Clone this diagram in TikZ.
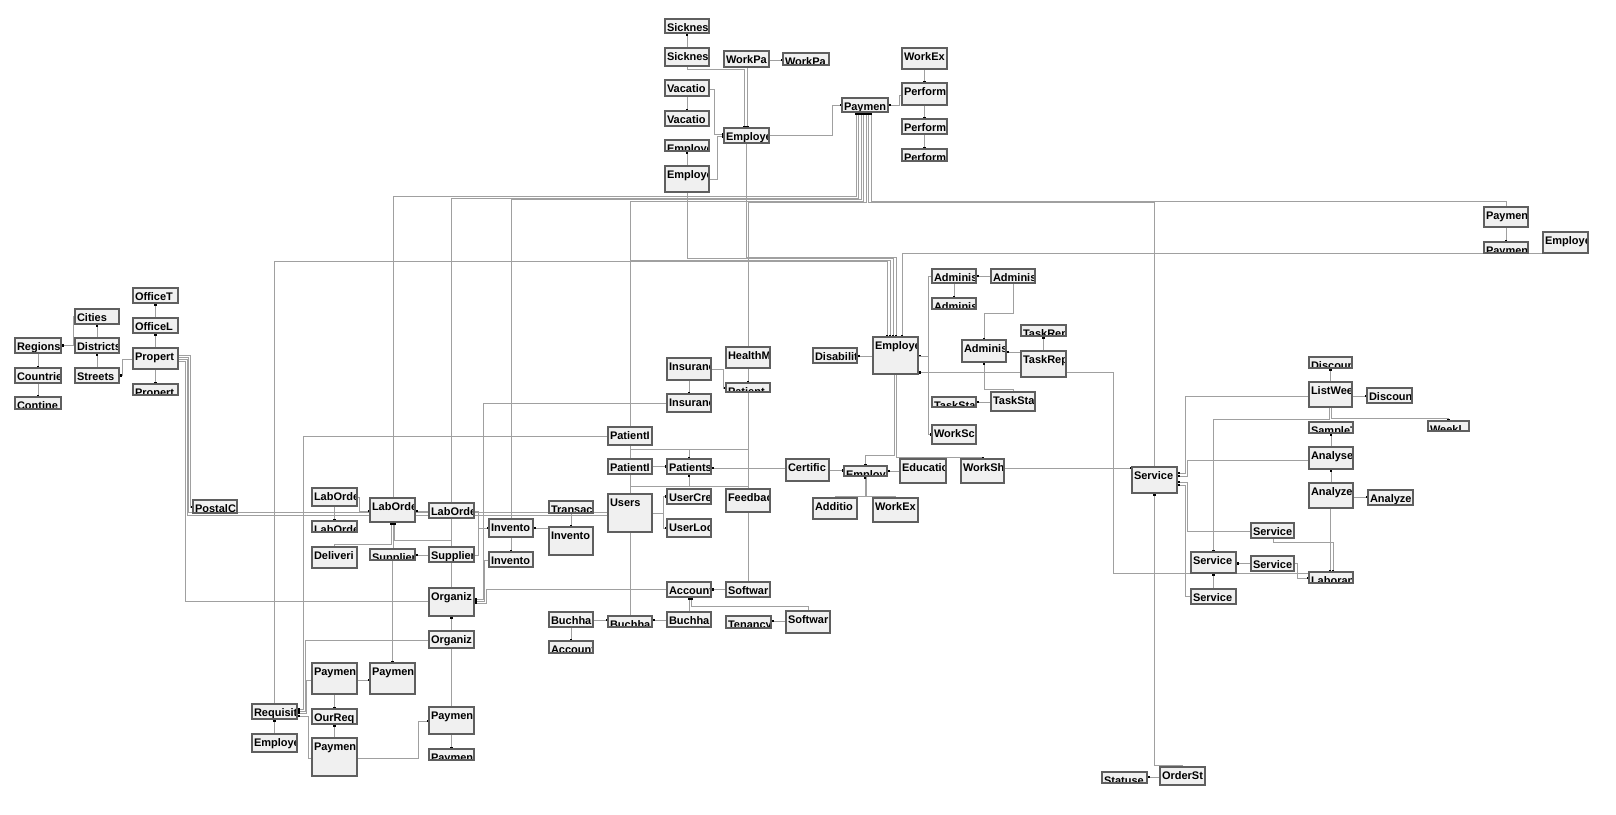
\documentclass[tikz,border=0pt]{standalone}
\usepackage{fontspec}
\usetikzlibrary{arrows.meta}
\newfontfamily\libsans{Liberation Sans}
\newcommand\tbf{\libsans\bfseries\fontsize{11}{12}\selectfont}
\definecolor{boxgray}{HTML}{5F5F5F}
\definecolor{boxfill}{HTML}{F0F0F0}
\definecolor{linegray}{HTML}{A0A0A0}
\pgfdeclarelayer{back}
\pgfdeclarelayer{bg}
\pgfsetlayers{back,bg,main}
\tikzset{
 tbl/.style={rectangle,draw=boxgray,fill=boxfill,line width=1.1pt,inner sep=0pt,outer sep=0pt,anchor=north west},
 fk/.style={draw=linegray,line width=0.9pt},
 de/.style={arrows={-Square[length=2.4pt,width=2.4pt,color=black]}},
 ds/.style={arrows={Square[length=2.4pt,width=2.4pt,color=black]-}},
 tbltext/.style={anchor=base west,inner sep=0pt,outer sep=0pt,minimum width=0pt,minimum height=0pt,draw=none,fill=none,text=black,font=\tbf},
}
\newcommand\dbtab[6]{\node[tbl,minimum width={(#4-#2)*1pt},minimum height={(#5-#3)*1pt},
 path picture={\node[tbltext] at ([xshift=2pt,yshift=-12pt]path picture bounding box.north west) {#6};}] (#1) at (#2,#3) {};}
\begin{document}
\begin{tikzpicture}[x=1pt,y=-1pt]
\useasboundingbox (0,0) rectangle (1616,814);
\begin{pgfonlayer}{back}\fill[white] (0,0) rectangle (1616,814);\end{pgfonlayer}
% left cluster
\dbtab{officeT}{133}{288}{178}{303}{OfficeT}
\dbtab{cities}{75}{309}{119}{324}{Cities}
\dbtab{officeL}{133}{318}{178}{333}{OfficeL}
\dbtab{regions}{15}{338}{61}{353}{Regions}
\dbtab{districts}{75}{338}{119}{353}{Districts}
\dbtab{property}{133}{348}{178}{369}{Propert}
\dbtab{countries}{15}{368}{61}{383}{Countrie}
\dbtab{streets}{75}{368}{119}{383}{Streets}
\dbtab{propertB}{133}{384}{178}{395}{Propert}
\dbtab{contine}{15}{397}{61}{409}{Contine}
\dbtab{postalC}{193}{500}{237}{513}{PostalC}
% laborders
\dbtab{labS}{312}{488}{357}{506}{LabOrde}
\dbtab{labM}{370}{498}{415}{522}{LabOrde}
\dbtab{labR}{429}{503}{474}{518}{LabOrde}
\dbtab{labL}{312}{521}{357}{532}{LabOrde}
\dbtab{deliveri}{312}{547}{357}{568}{Deliveri}
\dbtab{supS}{370}{549}{415}{560}{Supplier}
\dbtab{supR}{429}{547}{474}{562}{Supplier}
\dbtab{org1}{429}{588}{474}{616}{Organiz}
\dbtab{org2}{429}{631}{474}{648}{Organiz}
\dbtab{payL1}{312}{663}{357}{694}{Paymen}
\dbtab{payM}{370}{663}{415}{694}{Paymen}
\dbtab{requisit}{252}{704}{297}{719}{Requisit}
\dbtab{ourReq}{312}{709}{357}{724}{OurReq}
\dbtab{payR}{429}{707}{474}{734}{Paymen}
\dbtab{empBL}{252}{734}{297}{752}{Employe}
\dbtab{payBL}{312}{738}{357}{776}{Paymen}
\dbtab{payB}{429}{749}{474}{760}{Paymen}
% middle
\dbtab{inv1}{489}{519}{533}{537}{Invento}
\dbtab{inv2}{549}{527}{593}{555}{Invento}
\dbtab{inv3}{489}{552}{533}{567}{Invento}
\dbtab{transac}{549}{501}{593}{513}{Transac}
\dbtab{healthM}{726}{347}{770}{368}{HealthM}
\dbtab{ins1}{667}{358}{711}{380}{Insuranc}
\dbtab{patient}{726}{383}{770}{392}{Patient}
\dbtab{ins2}{667}{394}{711}{412}{Insuranc}
\dbtab{patI1}{608}{427}{652}{445}{PatientI}
\dbtab{patI2}{608}{459}{652}{474}{PatientI}
\dbtab{patients}{667}{459}{711}{474}{Patients}
\dbtab{users}{608}{494}{652}{532}{Users}
\dbtab{userCre}{667}{489}{711}{504}{UserCre}
\dbtab{feedbac}{726}{489}{770}{512}{Feedbac}
\dbtab{userLoc}{667}{519}{711}{537}{UserLoc}
\dbtab{account}{667}{582}{711}{597}{Account}
\dbtab{soft1}{726}{582}{770}{597}{Softwar}
\dbtab{buchL}{549}{612}{593}{627}{Buchhal}
\dbtab{buchM}{608}{616}{652}{627}{Buchhal}
\dbtab{buchR}{667}{612}{711}{627}{Buchhal}
\dbtab{tenancy}{726}{616}{771}{628}{Tenancy}
\dbtab{soft2}{786}{611}{830}{633}{Softwar}
\dbtab{accB}{549}{641}{593}{653}{Account}
% top
\dbtab{sick1}{665}{19}{709}{33}{Sicknes}
\dbtab{sick2}{665}{48}{709}{66}{Sicknes}
\dbtab{workPa}{724}{51}{769}{67}{WorkPa}
\dbtab{workPaS}{783}{53}{829}{65}{WorkPa}
\dbtab{workEx}{902}{48}{947}{69}{WorkEx}
\dbtab{vac1}{665}{80}{709}{96}{Vacatio}
\dbtab{perf1}{902}{83}{947}{105}{Perform}
\dbtab{payT}{842}{98}{888}{112}{Paymen}
\dbtab{vac2}{665}{111}{709}{126}{Vacatio}
\dbtab{perf2}{902}{119}{947}{134}{Perform}
\dbtab{empT}{724}{128}{769}{143}{Employe}
\dbtab{empS}{665}{140}{709}{151}{Employe}
\dbtab{perf3}{902}{149}{947}{161}{Perform}
\dbtab{emp2}{665}{166}{709}{192}{Employe}
% right-center
\dbtab{adm1}{932}{269}{976}{283}{Adminis}
\dbtab{adm2}{991}{269}{1035}{283}{Adminis}
\dbtab{adm3}{932}{298}{976}{309}{Adminis}
\dbtab{taskRepS}{1021}{325}{1066}{336}{TaskRep}
\dbtab{empBig}{873}{337}{918}{374}{Employe}
\dbtab{disabilit}{813}{348}{857}{363}{Disabilit}
\dbtab{admM}{962}{340}{1006}{362}{Adminis}
\dbtab{taskRep}{1021}{351}{1066}{377}{TaskRep}
\dbtab{taskStaS}{932}{397}{976}{407}{TaskSta}
\dbtab{taskSta}{991}{392}{1035}{411}{TaskSta}
\dbtab{workSc}{932}{425}{976}{444}{WorkSc}
\dbtab{certific}{786}{459}{829}{481}{Certific}
\dbtab{empC}{844}{466}{887}{476}{Employe}
\dbtab{educatio}{900}{459}{946}{483}{Educatio}
\dbtab{workSh}{961}{459}{1004}{483}{WorkSh}
\dbtab{additio}{813}{498}{857}{519}{Additio}
\dbtab{workEx2}{873}{498}{918}{522}{WorkEx}
% right
\dbtab{payRt}{1484}{207}{1528}{227}{Paymen}
\dbtab{payRt2}{1484}{242}{1528}{253}{Paymen}
\dbtab{empRt}{1543}{232}{1588}{253}{Employe}
\dbtab{discounS}{1309}{357}{1352}{368}{Discoun}
\dbtab{listWee}{1309}{382}{1352}{407}{ListWee}
\dbtab{discounR}{1367}{388}{1412}{403}{Discoun}
\dbtab{sample}{1309}{422}{1353}{433}{SampleT}
\dbtab{weekl}{1428}{421}{1469}{431}{Weekl}
\dbtab{analyse}{1309}{447}{1353}{469}{Analyse}
\dbtab{serviceM}{1132}{467}{1177}{493}{Service}
\dbtab{analyze}{1309}{483}{1353}{508}{Analyze}
\dbtab{analyzeR}{1368}{490}{1413}{505}{Analyze}
\dbtab{serviceA}{1251}{523}{1294}{538}{Service}
\dbtab{serviceB}{1191}{552}{1236}{573}{Service}
\dbtab{serviceC}{1251}{556}{1294}{571}{Service}
\dbtab{laboran}{1309}{572}{1353}{583}{Laboran}
\dbtab{serviceD}{1191}{589}{1236}{604}{Service}
\dbtab{statuse}{1102}{772}{1147}{783}{Statuse}
\dbtab{orderSt}{1160}{767}{1205}{785}{OrderSt}

\begin{pgfonlayer}{bg}
% left cluster
\draw[fk,ds] (regions.east) -- (73,345.5) |- (cities.west);
\draw[fk,de] (regions.south) -- (countries.north);
\draw[fk,de] (countries.south) -- (contine.north);
\draw[fk,de] (districts.north) -- (cities.south);
\draw[fk,de] (streets.north) -- (districts.south);
\draw[fk,ds] (streets.east) -- (122.5,375.5) |- (property.west |- 0,359);
\draw[fk,de] (officeL.north) -- (officeT.south);
\draw[fk,de] (property.north) -- (officeL.south);
\draw[fk,de] (property.south) -- (propertB.north);
\draw[fk,de] (property.east |- 0,355) -- (190,355) |- (postalC.west |- 0,507);
\draw[fk] (property.east |- 0,357) -- (188.5,357) |- (users.west |- 0,512.5);
\draw[fk] (property.east |- 0,359) -- (187,359) |- (users.west |- 0,515);
\draw[fk] (property.east |- 0,361) -- (185.5,361) |- (org1.west |- 0,601.5);
% laborders
\draw[fk,de] (labS.east |- 0,497) -- (359.5,497) |- (labM.west |- 0,511);
\draw[fk,de] (labS.south) -- (labL.north);
\draw[fk,de] (labR.west |- 0,511) -- (labM.east |- 0,511);
\draw[fk,de] (deliveri.north) |- (391.5,544) -- (labM.south -| 391.5,0);
\draw[fk,de] (supS.north -| 393,0) -- (labM.south -| 393,0);
\draw[fk,de] (org1.north) |- (394.5,540) -- (labM.south -| 394.5,0);
\draw[fk,de] (supR.west |- 0,555) -- (supS.east |- 0,555);
\draw[fk,de] (supS.south) -- (payM.north);
\draw[fk,de] (labR.east |- 0,511) -- (478,511) |- (inv1.west |- 0,528);
\draw[fk,de] (supR.east |- 0,555) -- (478,555) |- (inv1.west |- 0,528);
\draw[fk,ds] (org1.east |- 0,599) -- (483,599) |- (ins2.west |- 0,403);
\draw[fk,ds] (org1.east |- 0,601) -- (484.5,601) |- (inv3.west |- 0,560);
\draw[fk,ds] (org1.east |- 0,603) -- (486,603) |- (account.west |- 0,589.5);
\draw[fk,ds] (org1.south) -- (org2.north);
\draw[fk] (org2.south) -- (payR.north);
\draw[fk,de] (payR.south) -- (payB.north);
\draw[fk,de] (payBL.east |- 0,758) -- (418,758) |- (payR.west |- 0,721);
\draw[fk,de] (payL1.east |- 0,680) -- (payM.west |- 0,680);
\draw[fk,de] (payL1.south) -- (ourReq.north);
\draw[fk,de] (payBL.north) -- (ourReq.south);
\draw[fk,ds] (requisit.south) -- (empBL.north);
\draw[fk,ds] (requisit.east |- 0,709) -- (303.5,709) |- (patI1.west |- 0,436);
\draw[fk,ds] (requisit.east |- 0,711) -- (305,711) |- (org2.west |- 0,640);
\draw[fk,ds] (requisit.east |- 0,713) -- (306.5,713) |- (payL1.west |- 0,680);
\draw[fk,ds] (requisit.east |- 0,716) -- (308,716) |- (payBL.west |- 0,758);
\draw[fk,de] (requisit.north) |- (887,261.5) -- (empBig.north -| 887,0);
% top
\draw[fk,de] (sick2.north) -- (sick1.south);
\draw[fk,de] (sick2.south) |- (744.5,69.5) -- (empT.north -| 744.5,0);
\draw[fk,de] (workPa.south -| 747.5,0) -- (empT.north -| 747.5,0);
\draw[fk,de] (workPa.east |- 0,60) -- (workPaS.west |- 0,60);
\draw[fk,de] (vac1.east |- 0,89) -- (714,89) |- (empT.west |- 0,134.5);
\draw[fk,de] (vac1.south) -- (vac2.north);
\draw[fk,de] (emp2.north) -- (empS.south);
\draw[fk,de] (emp2.east |- 0,179) -- (717,179) |- (empT.west |- 0,136.5);
\draw[fk,de] (empT.east |- 0,135) -- (832,135) |- (payT.west |- 0,105);
\draw[fk,de] (perf1.west |- 0,95) -- (899,95) |- (payT.east |- 0,105);
\draw[fk,de] (workEx.south) -- (perf1.north);
\draw[fk,de] (perf1.south) -- (perf2.north);
\draw[fk,de] (perf2.south) -- (perf3.north);
% top bundle
\draw[fk,ds] (payT.south -| 856,0) |- (393,196.5) -- (labM.north -| 393,0);
\draw[fk,ds] (payT.south -| 858.5,0) |- (451.5,198) -- (org1.north);
\draw[fk,ds] (payT.south -| 861,0) |- (511,199.5) -- (inv1.north);
\draw[fk,ds] (payT.south -| 863.5,0) |- (630,201) -- (users.north);
\draw[fk,ds] (payT.south -| 866,0) |- (748,202.5) -- (healthM.north);
\draw[fk,ds] (payT.south -| 868.5,0) |- (1154.5,202.5) -- (serviceM.north);
\draw[fk,ds] (payT.south -| 871,0) |- (1506,201) -- (payRt.north);
% lower bundle
\draw[fk,de] (patI1.north) |- (890,260) -- (empBig.north -| 890,0);
\draw[fk,de] (emp2.south) |- (893,258.5) -- (empBig.north -| 893,0);
\draw[fk,de] (empT.south) |- (896,257) -- (empBig.north -| 896,0);
\draw[fk,de] (empRt.south west) -- (902,253) -- (empBig.north -| 902,0);
% right-center
\draw[fk,de] (adm2.west) -- (adm1.east);
\draw[fk,de] (adm1.south) -- (adm3.north);
\draw[fk,de] (adm1.west) -- (928,276) |- (empBig.east |- 0,356);
\draw[fk,de] (empBig.east |- 0,356) -- (928,356) |- (workSc.west);
\draw[fk,de] (adm2.south -| 1013,0) |- (984,313) -- (admM.north);
\draw[fk,de] (taskRep.north) -- (taskRepS.south);
\draw[fk,de] (taskRep.west |- 0,352) -- (admM.east |- 0,352);
\draw[fk,de] (taskSta.north -| 1013,0) |- (984,389) -- (admM.south);
\draw[fk,de] (taskSta.west |- 0,402) -- (taskStaS.east |- 0,402);
\draw[fk,ds] (empBig.east |- 0,372.5) -- (1113,372.5) |- (laboran.west |- 0,573.5);
\draw[fk,de] (empBig.west |- 0,356) -- (disabilit.east |- 0,356);
\draw[fk,de] (empBig.south -| 894,0) |- (865.5,455) -- (empC.north);
\draw[fk,de] (empBig.south -| 896.5,0) |- (983,457) -- (workSh.north -| 983,0);
\draw[fk,de] (certific.east |- 0,470.5) -- (empC.west |- 0,470.5);
\draw[fk,de] (educatio.west |- 0,471) -- (empC.east |- 0,471);
\draw[fk,de] (workSh.east |- 0,468) -- (serviceM.west |- 0,468);
\draw[fk,ds] (empC.south -| 865,0) |- (835,496) -- (additio.north);
\draw[fk] (empC.south -| 866.5,0) |- (895.5,496) -- (workEx2.north);
\draw[fk,de] (certific.west |- 0,468) -- (patients.east |- 0,468);
% middle
\draw[fk,de] (ins1.east |- 0,369) -- (723,369) |- (patient.west |- 0,388);
\draw[fk,de] (ins1.south) -- (ins2.north);
\draw[fk,de] (healthM.south) -- (patient.north);
\draw[fk] (feedbac.north) -- (patient.south);
\draw[fk,de] (patI1.south) |- (689,449) -- (patients.north);
\draw[fk] (patient.south) |- (689,449);
\draw[fk,de] (users.north) |- (689,486) -- (patients.south);
\draw[fk] (feedbac.north) |- (689,486);
\draw[fk,de] (patI2.east) -- (patients.west);
\draw[fk,de] (users.east |- 0,513) -- (663,513) |- (userCre.west);
\draw[fk,de] (users.east |- 0,513) -- (663,513) |- (userLoc.west);
\draw[fk,de] (transac.south) -- (inv2.north);
\draw[fk,ds] (inv1.east |- 0,528) -- (inv2.west |- 0,528);
\draw[fk,de] (inv1.south) -- (inv3.north);
\draw[fk] (buchM.north) -- (users.south);
\draw[fk] (feedbac.south) -- (soft1.north);
\draw[fk,de] (soft1.west) -- (account.east);
\draw[fk,de] (buchR.north -| 689.5,0) -- (account.south -| 689.5,0);
\draw[fk,de] (soft2.north -| 808,0) |- (691.5,606) -- (account.south -| 691.5,0);
\draw[fk,de] (buchR.west |- 0,620) -- (buchM.east |- 0,620);
\draw[fk,de] (buchL.east |- 0,620) -- (buchM.west |- 0,620);
\draw[fk,de] (buchL.south) -- (accB.north);
\draw[fk,de] (soft2.west |- 0,621) -- (tenancy.east |- 0,621);
% right
\draw[fk,de] (payRt.south) -- (payRt2.north);
\draw[fk,de] (listWee.north) -- (discounS.south);
\draw[fk,de] (listWee.east |- 0,396) -- (discounR.west |- 0,396);
\draw[fk,de] (listWee.south -| 1331.5,0) |- (1448.5,418) -- (weekl.north);
\draw[fk,de] (listWee.south -| 1329.5,0) |- (1213.5,419.5) -- (serviceB.north);
\draw[fk,de] (analyse.north) -- (sample.south);
\draw[fk,de] (analyze.north) -- (analyse.south);
\draw[fk,de] (analyze.east |- 0,497) -- (analyzeR.west |- 0,497);
\draw[fk,de] (analyze.south -| 1330,0) -- (laboran.north -| 1330,0);
\draw[fk,de] (serviceA.south -| 1273,0) |- (1333,542) -- (laboran.north -| 1333,0);
\draw[fk,de] (serviceC.west) -- (serviceB.east |- 0,563.5);
\draw[fk,de] (serviceC.east) -- (1297,563.5) |- (laboran.west |- 0,578);
\draw[fk,de] (serviceD.north) -- (serviceB.south);
\draw[fk,ds] (serviceM.east |- 0,473) -- (1185,473) |- (listWee.west |- 0,396);
\draw[fk,ds] (serviceM.east |- 0,476) -- (1187,476) |- (analyse.west |- 0,460);
\draw[fk,ds] (serviceM.east |- 0,482) -- (1187,482) |- (serviceA.west |- 0,531);
\draw[fk,ds] (serviceM.east |- 0,485) -- (1185,485) |- (serviceD.west);
\draw[fk,ds] (serviceM.south) |- (1182.5,765) -- (orderSt.north);
\draw[fk,de] (orderSt.west |- 0,777) -- (statuse.east |- 0,777);
\end{pgfonlayer}
\end{tikzpicture}
\end{document}
